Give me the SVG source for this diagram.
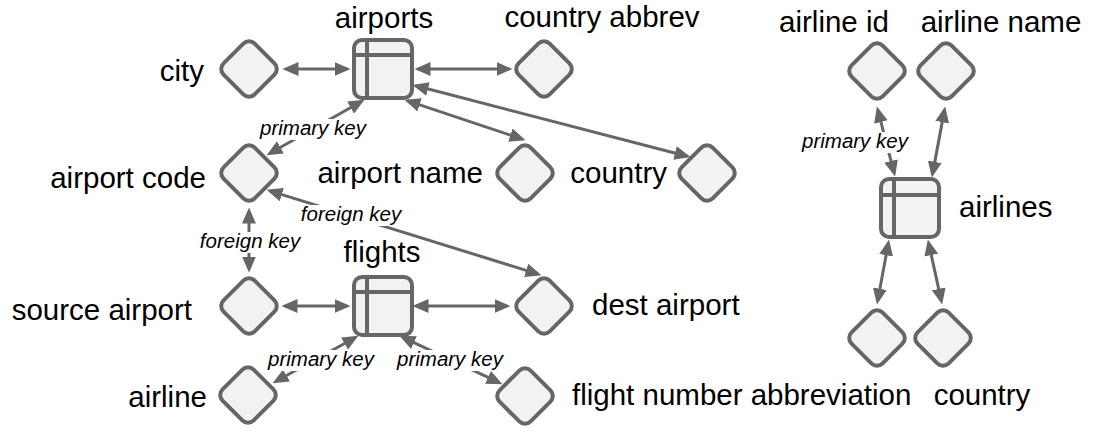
<svg xmlns="http://www.w3.org/2000/svg" width="1093" height="432" viewBox="0 0 1093 432">
<style>
.bg{fill:#ffffff}
.d{fill:#f2f2f2;stroke:#666666;stroke-width:4}
.t{fill:#f2f2f2;stroke:#666666;stroke-width:4}
.tl{stroke:#666666;stroke-width:4;fill:none}
.c{stroke:#666666;stroke-width:3;fill:none;marker-start:url(#ah);marker-end:url(#ah)}
.lb{font-family:"Liberation Sans",Arial,sans-serif;font-size:29.5px;fill:#000000}
.k{font-family:"Liberation Sans",Arial,sans-serif;font-size:20.5px;font-style:italic;fill:#000000;text-anchor:middle}
.kb{fill:#ffffff}
</style>
<defs>
<marker id="ah" markerUnits="userSpaceOnUse" markerWidth="16" markerHeight="14" refX="12.5" refY="7" orient="auto-start-reverse">
<path d="M0,0 L16,7 L0,14 z" fill="#666666"/>
</marker>
</defs>
<rect class="bg" x="0" y="0" width="1093" height="432"/>
<g id="connectors">
<line class="c" x1="286" y1="69" x2="347" y2="69"/>
<line class="c" x1="418" y1="69" x2="509" y2="69"/>
<line class="c" x1="407.8" y1="100.9" x2="522.2" y2="139.1"/>
<line class="c" x1="415.9" y1="85.8" x2="687.1" y2="156.2"/>
<line class="c" x1="361.4" y1="101.5" x2="269.6" y2="153.5"/>
<line class="c" x1="269.9" y1="190.9" x2="538.1" y2="274.1"/>
<line class="c" x1="249" y1="211" x2="249" y2="269"/>
<line class="c" x1="285" y1="306" x2="347" y2="306"/>
<line class="c" x1="416" y1="306" x2="507" y2="306"/>
<line class="c" x1="355.4" y1="337.5" x2="275.6" y2="381.5"/>
<line class="c" x1="402.7" y1="337.3" x2="499.3" y2="382.7"/>
<line class="c" x1="877.8" y1="109.9" x2="894.2" y2="173.1"/>
<line class="c" x1="944.5" y1="109.9" x2="932.5" y2="174.1"/>
<line class="c" x1="888.4" y1="242.9" x2="877.6" y2="301.1"/>
<line class="c" x1="928.6" y1="242.9" x2="941.4" y2="301.1"/>
<rect class="kb" x="258" y="119" width="110" height="21"/>
<text class="k" x="313" y="135">primary key</text>
<rect class="kb" x="298" y="205" width="106" height="21"/>
<text class="k" x="351" y="221">foreign key</text>
<rect class="kb" x="197" y="232" width="106" height="21"/>
<text class="k" x="250" y="248">foreign key</text>
<rect class="kb" x="266" y="350" width="110" height="21"/>
<text class="k" x="321" y="366">primary key</text>
<rect class="kb" x="395" y="350" width="110" height="21"/>
<text class="k" x="450" y="366">primary key</text>
<rect class="kb" x="800" y="132" width="110" height="21"/>
<text class="k" x="855" y="148">primary key</text>
</g>
<g id="city"><rect class="d" x="-22" y="-22" width="44" height="44" rx="8" transform="translate(249,69) rotate(45)"/><text class="lb" x="204" y="81" text-anchor="end">city</text></g>
<g id="airports"><rect class="t" x="354" y="40" width="58" height="58" rx="8"/><line class="tl" x1="367" y1="40" x2="367" y2="98"/><line class="tl" x1="354" y1="55" x2="412" y2="55"/><text class="lb" x="384" y="28" text-anchor="middle">airports</text></g>
<g id="country-abbrev"><rect class="d" x="-22" y="-22" width="44" height="44" rx="8" transform="translate(544,69) rotate(45)"/><text class="lb" x="602" y="27" text-anchor="middle">country abbrev</text></g>
<g id="airport-code"><rect class="d" x="-22" y="-22" width="44" height="44" rx="8" transform="translate(249,173) rotate(45)"/><text class="lb" x="206" y="188" text-anchor="end">airport code</text></g>
<g id="airport-name"><rect class="d" x="-22" y="-22" width="44" height="44" rx="8" transform="translate(525,173) rotate(45)"/><text class="lb" x="483" y="183" text-anchor="end">airport name</text></g>
<g id="country-left"><rect class="d" x="-22" y="-22" width="44" height="44" rx="8" transform="translate(707,173) rotate(45)"/><text class="lb" x="667" y="183" text-anchor="end">country</text></g>
<g id="flights"><rect class="t" x="354" y="277" width="58" height="58" rx="8"/><line class="tl" x1="367" y1="277" x2="367" y2="335"/><line class="tl" x1="354" y1="292" x2="412" y2="292"/><text class="lb" x="382" y="262" text-anchor="middle">flights</text></g>
<g id="source-airport"><rect class="d" x="-22" y="-22" width="44" height="44" rx="8" transform="translate(249,306) rotate(45)"/><text class="lb" x="192" y="320" text-anchor="end">source airport</text></g>
<g id="dest-airport"><rect class="d" x="-22" y="-22" width="44" height="44" rx="8" transform="translate(544,306) rotate(45)"/><text class="lb" x="592" y="315">dest airport</text></g>
<g id="airline"><rect class="d" x="-22" y="-22" width="44" height="44" rx="8" transform="translate(248,395) rotate(45)"/><text class="lb" x="207" y="407" text-anchor="end">airline</text></g>
<g id="flight-number"><rect class="d" x="-22" y="-22" width="44" height="44" rx="8" transform="translate(525,396) rotate(45)"/><text class="lb" x="572" y="405">flight number</text></g>
<g id="airline-id"><rect class="d" x="-22" y="-22" width="44" height="44" rx="8" transform="translate(877,71) rotate(45)"/><text class="lb" x="834" y="32" text-anchor="middle">airline id</text></g>
<g id="airline-name"><rect class="d" x="-22" y="-22" width="44" height="44" rx="8" transform="translate(946,71) rotate(45)"/><text class="lb" x="1001" y="32" text-anchor="middle">airline name</text></g>
<g id="airlines"><rect class="t" x="881" y="179" width="58" height="58" rx="8"/><line class="tl" x1="894" y1="179" x2="894" y2="237"/><line class="tl" x1="881" y1="195" x2="939" y2="195"/><text class="lb" x="959" y="217">airlines</text></g>
<g id="abbreviation"><rect class="d" x="-22" y="-22" width="44" height="44" rx="8" transform="translate(877,338) rotate(45)"/><text class="lb" x="831" y="405" text-anchor="middle">abbreviation</text></g>
<g id="country-right"><rect class="d" x="-22" y="-22" width="44" height="44" rx="8" transform="translate(943,338) rotate(45)"/><text class="lb" x="982" y="405" text-anchor="middle">country</text></g>
</svg>
